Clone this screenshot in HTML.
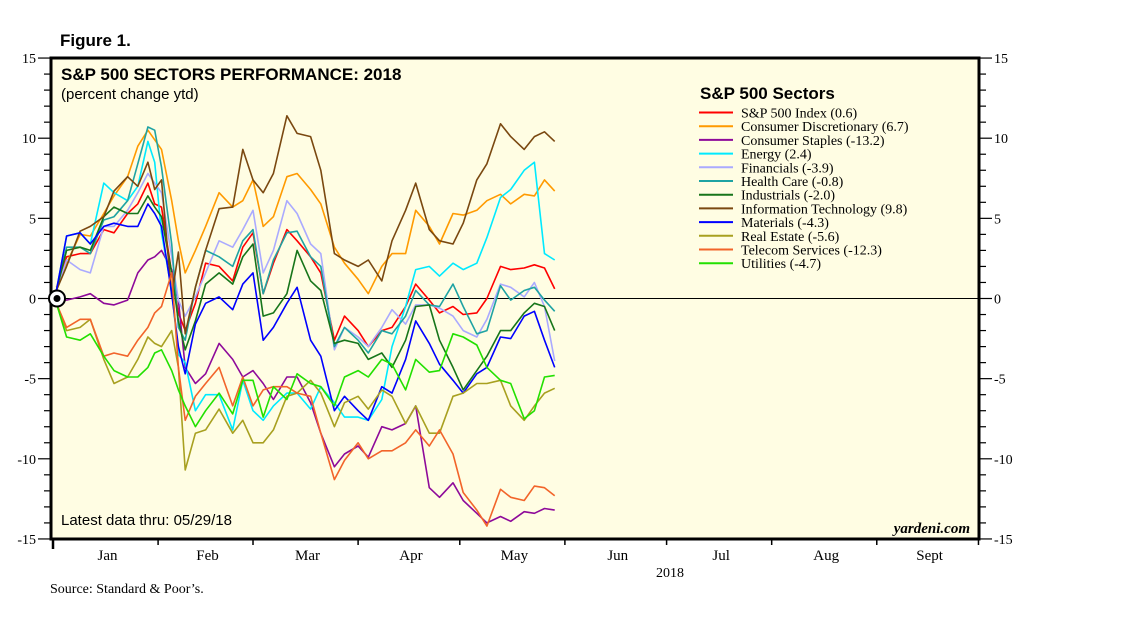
<!DOCTYPE html>
<html><head><meta charset="utf-8"><style>
html,body{margin:0;padding:0;background:#fff;}
svg{display:block;font-family:"Liberation Sans",sans-serif;}
.serif{font-family:"Liberation Serif",serif;}
</style></head><body>
<svg id="chart" width="1138" height="622" viewBox="0 0 1138 622">
<text x="60" y="46" font-size="17" font-weight="bold">Figure 1.</text>
<rect x="51" y="58" width="928" height="481" fill="#fffde3"/>
<g id="ticks"></g>
<line x1="51" y1="298.5" x2="979" y2="298.5" stroke="#000" stroke-width="1"/>
<g id="series"></g>
<rect x="51" y="58" width="928" height="481" fill="none" stroke="#000" stroke-width="3"/>
<circle cx="57" cy="298.5" r="8" fill="#fff" stroke="#000" stroke-width="2"/>
<circle cx="57" cy="298.5" r="3.5" fill="#000"/>
<text x="61" y="80" font-size="17" font-weight="bold">S&amp;P 500 SECTORS PERFORMANCE: 2018</text>
<text x="61" y="99" font-size="15">(percent change ytd)</text>
<text x="61" y="525" font-size="15">Latest data thru: 05/29/18</text>
<text x="970" y="533" font-size="15" font-weight="bold" font-style="italic" text-anchor="end" class="serif">yardeni.com</text>
<text x="700" y="99" font-size="17" font-weight="bold">S&amp;P 500 Sectors</text>
<g id="legend"></g>
<text x="670" y="577" font-size="14" text-anchor="middle" class="serif">2018</text>
<text x="50" y="593" font-size="14" class="serif">Source: Standard &amp; Poor’s.</text>
</svg>
<script>
const days = [2,5,9,12,16,19,23,26,29,31,33,36,38,40,43,46,50,54,57,60,63,66,70,73,77,80,84,87,91,94,98,101,105,108,112,115,119,122,126,129,133,136,140,143,146,149];
const seriesNames = ["S&P 500 Index (0.6)","Consumer Discretionary (6.7)","Consumer Staples (-13.2)","Energy (2.4)","Financials (-3.9)","Health Care (-0.8)","Industrials (-2.0)","Information Technology (9.8)","Materials (-4.3)","Real Estate (-5.6)","Telecom Services (-12.3)","Utilities (-4.7)"];
const seriesColors = ["#ff0000","#ff9a00","#8e0a9a","#00eaff","#aaaaff","#1fa3a3","#17751a","#7a4810","#0000ff","#a8a020","#f2642a","#22e000"];
const spx = [0.5,2.6,2.8,2.8,4.3,4.1,5.3,5.9,7.2,5.9,5.7,1.6,-0.9,-2.0,-0.3,2.2,2.0,1.1,3.2,4.1,0.3,2.2,4.3,3.6,2.6,1.6,-2.6,-1.1,-2.0,-3.0,-2.0,-1.8,-0.5,0.9,-0.1,-0.9,-0.5,-1.0,-0.9,0.0,2.0,1.8,1.9,2.1,1.9,0.6];
const consDisc = [0.7,2.2,4.0,3.9,5.3,6.4,7.6,9.5,10.5,9.9,9.3,6.1,3.6,1.6,3.0,4.5,6.6,5.7,6.1,7.4,4.5,5.1,7.6,7.8,6.8,5.9,3.2,2.2,1.2,0.3,2.0,2.8,2.8,5.5,4.5,3.4,5.3,5.2,5.5,6.1,6.5,5.9,6.5,6.4,7.4,6.7];
const staples = [0.0,-0.1,0.1,0.3,-0.3,-0.4,-0.1,1.6,2.4,2.6,3.0,1.8,-0.1,-4.3,-5.3,-4.7,-2.8,-3.8,-4.9,-4.5,-5.3,-6.3,-4.9,-4.9,-6.5,-8.4,-10.5,-9.7,-9.2,-9.9,-8.0,-8.2,-7.8,-6.7,-11.8,-12.4,-11.5,-12.6,-13.4,-14.0,-13.6,-13.9,-13.3,-13.4,-13.1,-13.2];
const energy = [0.5,3.9,4.1,3.4,7.2,6.6,6.1,7.0,9.8,8.5,4.1,0.5,-3.5,-4.0,-7.0,-6.0,-6.0,-8.2,-5.1,-7.0,-7.6,-6.7,-5.9,-5.9,-6.9,-5.5,-6.5,-7.4,-7.4,-7.6,-6.3,-3.0,-0.5,1.8,2.0,1.4,2.2,1.8,2.2,3.8,6.3,6.8,8.0,8.5,2.8,2.4];
const financials = [0.5,2.4,1.8,1.6,4.5,4.5,5.5,6.6,7.8,7.2,6.6,2.6,-0.1,-1.1,0.1,1.6,3.6,3.2,4.3,5.5,1.6,3.0,6.1,5.3,3.4,2.8,-3.2,-1.8,-2.4,-3.0,-1.8,-0.7,-1.6,-0.4,-0.4,-0.6,-1.1,-2.0,-2.4,-1.3,0.9,0.7,0.1,1.0,-0.5,-3.9];
const health = [0.5,3.2,3.2,2.8,4.9,5.1,6.1,8.4,10.7,10.5,8.2,3.4,-1.8,-2.6,0.7,3.0,2.6,2.0,3.6,4.3,0.3,2.4,4.1,4.2,2.6,2.0,-3.0,-1.8,-2.6,-3.4,-2.0,-2.2,-1.1,0.5,-0.4,-0.5,0.9,-0.5,-2.2,-2.0,0.8,-0.1,0.5,0.7,-0.1,-0.8];
const industrials = [0.5,3.0,3.2,3.0,5.1,5.7,5.3,5.3,6.4,5.7,5.1,1.6,-1.4,-3.2,-1.4,0.9,1.6,0.9,2.6,3.4,-1.1,-0.9,0.3,3.0,1.1,0.5,-2.8,-2.6,-2.8,-3.8,-3.4,-4.3,-2.6,-0.5,-0.4,-2.6,-4.3,-5.7,-4.5,-3.6,-2.0,-2.0,-0.9,-0.3,-0.5,-2.0];
const infoTech = [0.5,2.0,4.2,4.5,5.1,6.7,7.6,7.0,8.5,6.8,7.4,0.1,2.9,-2.2,0.7,3.0,5.6,5.7,9.3,7.4,6.6,7.8,11.4,10.3,10.1,8.0,2.8,2.4,2.0,2.4,1.1,3.6,5.5,7.2,4.3,3.6,3.4,4.7,7.4,8.4,10.9,10.1,9.3,10.1,10.4,9.8];
const materials = [0.5,3.9,4.1,3.4,4.5,4.7,4.5,4.5,5.9,5.3,4.5,0.3,-3.0,-4.7,-1.6,-0.3,0.1,-0.7,0.9,1.6,-2.6,-1.8,-0.3,0.7,-2.6,-3.6,-7.0,-6.1,-7.0,-7.6,-5.5,-5.9,-3.8,-1.4,-2.8,-4.1,-5.1,-5.9,-4.7,-4.3,-2.4,-2.5,-1.1,-0.8,-2.6,-4.3];
const realEstate = [-0.3,-2.0,-1.8,-1.3,-3.8,-5.3,-4.9,-3.8,-2.4,-2.8,-3.0,-2.0,-4.3,-10.7,-8.4,-8.2,-6.9,-8.4,-7.6,-9.0,-9.0,-8.2,-6.1,-5.9,-5.1,-5.9,-8.0,-6.5,-6.1,-6.9,-5.7,-6.1,-7.8,-6.7,-8.4,-8.4,-6.1,-5.9,-5.3,-5.3,-5.1,-6.7,-7.6,-6.7,-5.9,-5.6];
const telecom = [-0.3,-1.8,-1.3,-1.3,-3.6,-3.4,-3.6,-2.6,-1.8,-0.9,-0.5,1.6,-4.3,-7.6,-6.1,-5.3,-4.3,-6.7,-4.9,-6.7,-5.7,-5.5,-5.5,-5.9,-6.1,-8.4,-11.3,-10.1,-9.0,-10.0,-9.5,-9.5,-9.0,-8.2,-9.2,-8.2,-9.7,-12.1,-13.2,-14.2,-11.9,-12.4,-12.6,-11.7,-11.8,-12.3];
const utilities = [-0.3,-2.4,-2.6,-2.2,-3.6,-4.5,-4.9,-4.9,-4.3,-3.4,-3.2,-4.5,-5.7,-6.7,-8.0,-7.0,-5.9,-7.2,-5.1,-5.1,-7.4,-5.5,-6.3,-4.7,-5.3,-5.5,-6.7,-4.9,-4.5,-4.9,-3.8,-4.1,-5.7,-3.8,-4.6,-4.5,-2.2,-2.4,-2.9,-4.3,-5.1,-5.3,-7.5,-7.0,-4.9,-4.8];
const yTicks = [-15,-10,-5,0,5,10,15];
const monthLabels = ["Jan","Feb","Mar","Apr","May","Jun","Jul","Aug","Sept"];
const monthStarts = [1,32,60,91,121,152,182,213,244,274];

const allSeries = [spx,consDisc,staples,energy,financials,health,industrials,infoTech,materials,realEstate,telecom,utilities];
const NS = "http://www.w3.org/2000/svg";
function xScale(d){ return 53 + (d-1)*3.39; }
function yScale(v){ return 298.5 - v*16.03; }
function mk(tag, attrs, parent){ const e=document.createElementNS(NS,tag); for(const k in attrs) e.setAttribute(k,attrs[k]); parent.appendChild(e); return e; }

const tg = document.getElementById('ticks');
for(let v=-15; v<=15; v++){
  const y=yScale(v); const major = v%5===0;
  const l1 = mk('line',{x1:major?38:44,x2:50,y1:y,y2:y,stroke:'#000','stroke-width':1.2},tg);
  
  
  const l2 = mk('line',{x1:980,x2:major?992:986,y1:y,y2:y,stroke:'#000','stroke-width':1.2},tg);
  
  
}
yTicks.forEach(v=>{
  const y=yScale(v)+5;
  const t1 = mk('text',{x:36,y:y,'font-size':14,'text-anchor':'end','class':'serif'},tg);
  t1.textContent=String(v);
  
  
  const t2 = mk('text',{x:994,y:y,'font-size':14,'class':'serif'},tg);
  t2.textContent=String(v);
  
  
});
monthStarts.forEach((d,i)=>{
  const x=xScale(d);
  const tk = mk('line',{x1:x,x2:x,y1:540,y2:i===0?549:545,stroke:'#000','stroke-width':i===0?2.5:1.5},tg);
  
  
  if(i<monthLabels.length){
    const t = mk('text',{x:(xScale(d)+xScale(monthStarts[i+1]))/2+2,y:560,'font-size':15,'text-anchor':'middle','class':'serif'},tg);
    t.textContent=monthLabels[i];
    
    
  }
});

const sg = document.getElementById('series');
const lg = document.getElementById('legend');
allSeries.forEach((vals,i)=>{
  const pts = vals.map((v,j)=>xScale(days[j]).toFixed(1)+','+yScale(v).toFixed(1)).join(' ');
  const pl = mk('polyline',{points:pts,fill:'none',stroke:seriesColors[i],'stroke-width':1.6,'stroke-linejoin':'round'},sg);
  
  
  const y = 112.5 + i*13.7;
  const ll = mk('line',{x1:699,x2:733,y1:y,y2:y,stroke:seriesColors[i],'stroke-width':2},lg);
  
  
  const lt = mk('text',{x:741,y:y+5,'font-size':14,'class':'serif'},lg);
  lt.textContent=seriesNames[i];
  
  
});
</script>
</body></html>
